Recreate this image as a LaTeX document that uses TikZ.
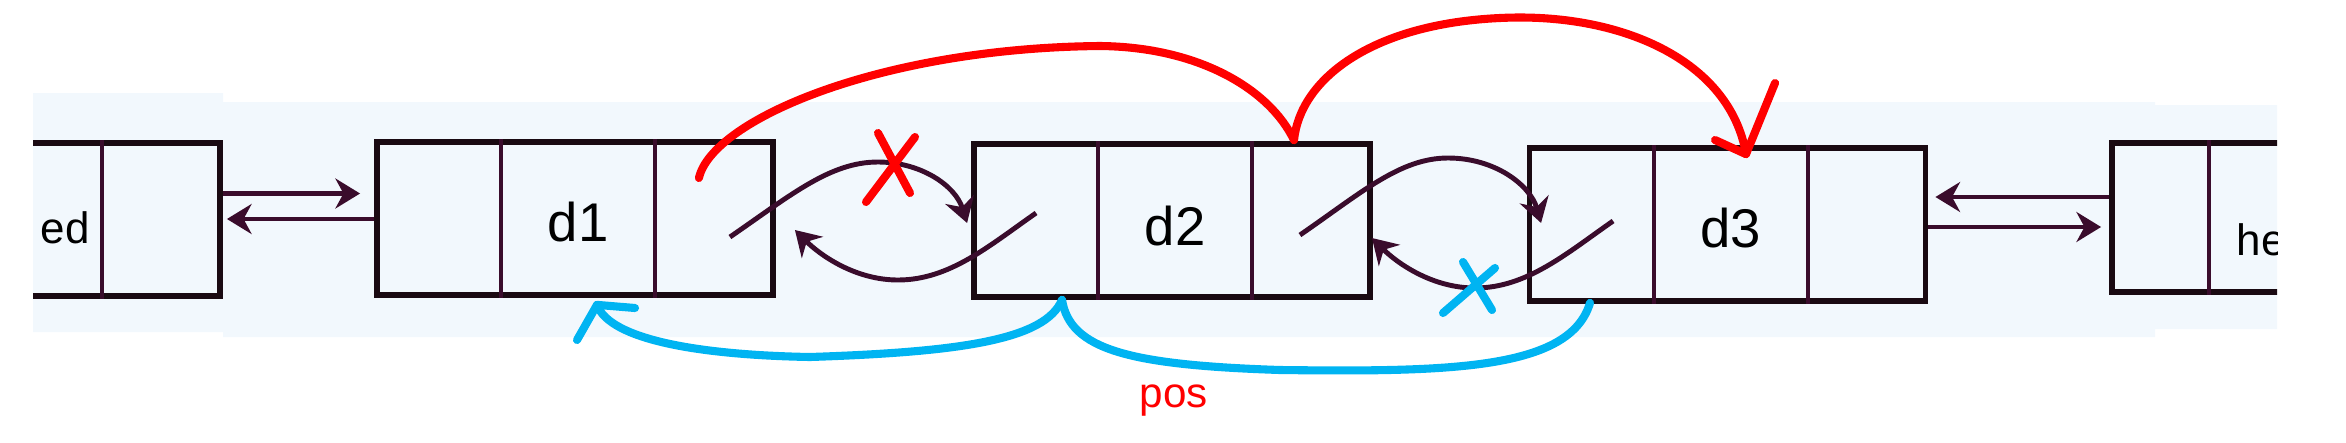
\documentclass[tikz,border=0pt]{standalone}
\usepackage{fontspec}
\setmainfont{Liberation Sans}
\usetikzlibrary{arrows.meta,calc}

\definecolor{band}{HTML}{F2F8FD}
\definecolor{ink}{HTML}{1A0A12}
\definecolor{plum}{HTML}{3A0C2C}
\definecolor{penred}{HTML}{FF0000}
\definecolor{penblue}{HTML}{00B4F2}

\tikzset{
  listbox/.style={draw=ink, line width=1.6pt, minimum width=3.96cm, minimum height=1.53cm, inner sep=0pt},
  divider/.style={draw=plum, line width=1.1pt},
  link/.style={draw=plum, line width=1.4pt, ->},
  redpen/.style={draw=penred, line width=2.3pt, line cap=round, line join=round},
  bluepen/.style={draw=penblue, line width=2.3pt, line cap=round, line join=round},
  celltext/.style={font=\fontsize{15.5pt}{15.5pt}\selectfont},
  endtext/.style={font=\fontsize{12.5pt}{12.5pt}\selectfont, anchor=base west, inner sep=0pt}
}

\begin{document}
\begin{tikzpicture}[x=0.01cm, y=-0.01cm, >={Stealth[length=7pt,width=8.5pt]}]
\useasboundingbox (0,0) rectangle (2346,442);
\begin{scope}
\clip (33,0) rectangle (2277,442);
% light strip behind the list
\fill[band] (33,93) rectangle (223,332) (223,102) rectangle (2155,337) (2155,105) rectangle (2277,329);

% the nodes of the list
\node[listbox] (edbox) at (22,219.5) {};
\node[listbox] (d1) at (575,218.5) {};
\node[listbox] (d2) at (1172,220.5) {};
\node[listbox] (d3) at (1727.5,224.5) {};
\node[listbox, minimum height=1.49cm] (hebox) at (2310,217.5) {};
\foreach \b in {edbox,d1,d2,d3} {
  \draw[divider] ($(\b.north west)+(127,0)$) -- ($(\b.south west)+(127,0)$);
  \draw[divider] ($(\b.north west)+(281,0)$) -- ($(\b.south west)+(281,0)$);
}
\draw[divider] ($(hebox.north west)+(100,0)$) -- ($(hebox.south west)+(100,0)$);

\node[celltext] (d1t) at ($(d1.west)+(204,4)$) {d1};
\node[celltext] (d2t) at ($(d2.west)+(204,6)$) {d2};
\node[celltext] (d3t) at ($(d3.west)+(204,4)$) {d3};
\node[endtext] (edt) at (40,243) {ed};
\node[endtext] (het) at (2236,255) {he};

% old links at both ends
\draw[link] ($(edbox.east)+(0,-26)$) -- ($(d1.west)+(-14,-25)$);
\draw[link] ($(d1.west)+(0,0.5)$) -- ($(edbox.east)+(4,-0.5)$);
\draw[link] ($(hebox.west)+(0,-20.5)$) -- ($(d3.east)+(7,-27.5)$);
\draw[link] ($(d3.east)+(0,2.5)$) -- ($(hebox.west)+(-8,9.5)$);
\end{scope}

% pointer ends
\coordinate (d1nx) at ($(d1.east)+(-46,18.5)$);
\coordinate (d2pvtip) at ($(d2.west)+(-4,2.5)$);
\coordinate (d2pv) at ($(d2.west)+(65,-7.5)$);
\coordinate (d1nxtip) at ($(d1.east)+(19,11.5)$);
\coordinate (d2nx) at ($(d2.east)+(-73,14.5)$);
\coordinate (d3pvtip) at ($(d3.west)+(14.5,-1.5)$);
\coordinate (d3pv) at ($(d3.west)+(86.5,-3.5)$);
\coordinate (d2nxtip) at ($(d2.east)+(-1,17.5)$);

% next / prev pointers
\draw[link] (d1nx) .. controls (791,195) and (830,162) .. (878,162)
  .. controls (920,162) and (955,185) .. (d2pvtip);
\draw[link] (d2pv) .. controls (990,245) and (950,280) .. (898,280)
  .. controls (855,280) and (820,255) .. (d1nxtip);
\draw[link] (d2nx) .. controls (1361,193) and (1400,158) .. (1448,158)
  .. controls (1495,158) and (1530,185) .. (d3pvtip);
\draw[link] (d3pv) .. controls (1567,253) and (1527,288) .. (1475,288)
  .. controls (1432,288) and (1397,263) .. (d2nxtip);

% red: pos moves from d1 over d2 to d3
\coordinate (r1) at ($(d1.east)+(-77,-40.5)$);
\coordinate (r2) at ($(d2.north)+(122,-1)$);
\coordinate (r3) at ($(d3.north)+(18.5,9)$);
\draw[redpen] (r1) .. controls (712,120) and (880,48) .. (1100,46)
  .. controls (1200,47) and (1270,90) .. (r2)
  .. controls (1300,80) and (1370,24) .. (1500,18)
  .. controls (1620,12) and (1730,60) .. (r3);
\draw[redpen] (1715,140) -- (r3) -- (1775,83);
\draw[redpen] (866,202) -- (915,137) (878,133) -- (910,193);
\node[text=penred, font=\fontsize{12pt}{12pt}\selectfont, anchor=base] (pos) at (1174,407) {pos};

% blue: pos moves back
\coordinate (b1) at ($(d2.south)+(-110,0)$);
\coordinate (b2) at ($(d1.south)+(22,7)$);
\coordinate (b3) at ($(d3.south)+(-137.5,-1)$);
\draw[bluepen] (b1) .. controls (1045,340) and (960,352) .. (810,357)
  .. controls (700,355) and (610,340) .. (b2);
\draw[bluepen] (577,340) -- (b2) -- (635,308);
\draw[bluepen] (b1) .. controls (1070,350) and (1130,365) .. (1280,370)
  .. controls (1450,372) and (1570,370) .. (b3);
\draw[bluepen] (1463,262) -- (1492,310) (1495,268) -- (1443,313);
\end{tikzpicture}
\end{document}
